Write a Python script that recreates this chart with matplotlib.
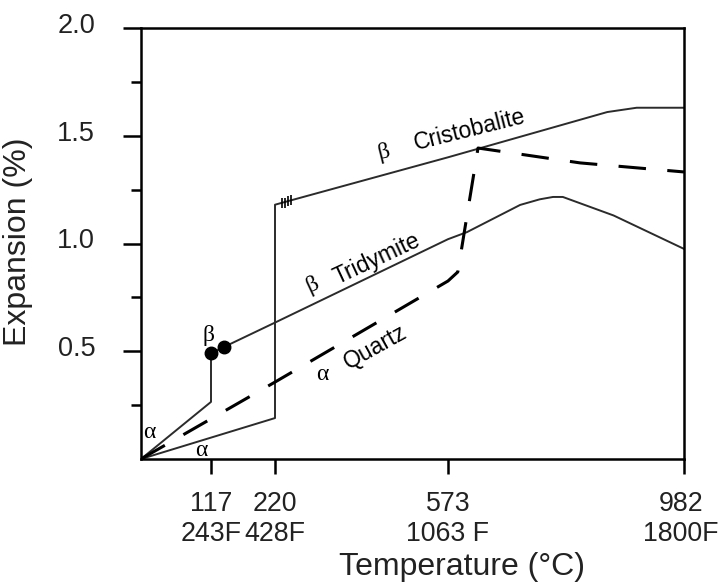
import numpy as np
import matplotlib.pyplot as plt
from matplotlib.transforms import ScaledTranslation

plt.rcParams['font.family'] = ['Liberation Sans', 'DejaVu Sans']

# temperature (C) and expansion (%)
cristo_t = [0, 220, 220, 573, 849, 900, 982]
cristo_e = [0, 0.19, 1.18, 1.40, 1.61, 1.63, 1.63]

trid_t = [0, 117, 117, 138, 220, 573, 606, 698, 732, 755, 772, 860, 982]
trid_e = [0, 0.265, 0.49, 0.52, 0.633, 1.02, 1.053, 1.179, 1.205, 1.216, 1.216, 1.13, 0.975]

quartz_t = [0, 220, 573, 590, 625, 802, 982]
quartz_e = [0, 0.357, 0.826, 0.868, 1.443, 1.374, 1.332]

dots_t = [117, 138]
dots_e = [0.49, 0.52]

hatch_t = [234, 240, 246, 252]
hatch_e = [1.19, 1.19, 1.195, 1.2]

tick_t = [117, 220, 573, 982]
tick_lbl = ['117\n243F', '220\n428F', '573\n1063 F', '982\n1800F']

# the schematic's temperature axis is not linear
anch_c = np.array([-1000, 0, 117, 220, 573, 982, 3000])
anch_p = np.array([-600, 0, 70, 134, 307, 543, 1708])


def fwd(x):
    return np.interp(x, anch_c, anch_p)


def inv(x):
    return np.interp(x, anch_p, anch_c)


fig = plt.figure(figsize=(7.21, 5.87), dpi=100)
ax = fig.add_axes([141/721, 1-459/587, (684-141)/721, (459-28)/587])
ax.set_xscale('function', functions=(fwd, inv))

ink = '#2b2b2b'
ax.plot(cristo_t, cristo_e, color=ink, lw=1.4)
ax.plot(trid_t, trid_e, color=ink, lw=1.4)
ax.plot(quartz_t, quartz_e, color='black', lw=2.2, dashes=(9, 7))
ax.plot(dots_t, dots_e, 'o', color='black', ms=9)
ax.plot(hatch_t, hatch_e, '|', color='black', ms=7, mew=1.2)

ax.set_xlim(0, 982)
ax.set_ylim(0, 2.0)

txt = '#222222'
ax.set_xticks(tick_t)
ax.set_xticklabels(tick_lbl, fontsize=19.3, color=txt)
ax.set_yticks([0.5, 1.0, 1.5, 2.0])
ax.set_yticklabels(['0.5', '1.0', '1.5', '2.0'], fontsize=19.5, color=txt)
ax.set_yticks([0.25, 0.75, 1.25, 1.75], minor=True)
ax.tick_params(axis='x', length=11, width=1.8, pad=12)
ax.tick_params(axis='y', which='major', length=13, width=1.8, pad=20)
ax.tick_params(axis='y', which='minor', length=7, width=1.8)
ax.xaxis.set_minor_locator(plt.NullLocator())
up = ScaledTranslation(0, 5/100, fig.dpi_scale_trans)
for t in ax.get_yticklabels():
    t.set_transform(t.get_transform() + up)
left = ScaledTranslation(-3/100, 0, fig.dpi_scale_trans)
ax.get_xticklabels()[-1].set_transform(ax.get_xticklabels()[-1].get_transform() + left)
for s in ax.spines.values():
    s.set_linewidth(1.8)

ax.set_xlabel('Temperature (°C)', fontsize=23, color=txt, va='center')
ax.xaxis.set_label_coords((462-141)/543, (459-567)/431)
ax.set_ylabel('Expansion (%)', fontsize=23, color=txt, va='center')
ax.yaxis.set_label_coords((18-141)/543, (459-242)/431)

lbl = dict(fontsize=16.5, color='black', ha='center', va='center',
           rotation_mode='anchor')
greek = dict(family='Liberation Serif', fontsize=17, color='black',
             ha='center', va='center', rotation_mode='anchor')

ax.text(inv(470 - 141), (459-130)/215.5, 'Cristobalite', rotation=14, **lbl)
ax.text(inv(384 - 141), (459-152)/215.5, 'β', rotation=14, **greek)
ax.text(inv(377 - 141), (459-259)/215.5, 'Tridymite', rotation=25, **lbl)
ax.text(inv(313 - 141), (459-285)/215.5, 'β', rotation=25, **greek)
ax.text(inv(375 - 141), (459-347)/215.5, 'Quartz', rotation=29, **lbl)
ax.text(inv(322 - 141), (459-374)/215.5, 'α', rotation=0, **greek)
ax.text(inv(208 - 141), (459-335)/215.5, 'β', rotation=0, **greek)
ax.text(inv(149 - 141), (459-433)/215.5, 'α', rotation=0, **greek)
ax.text(inv(201 - 141), (459-451)/215.5, 'α', rotation=0, **greek)

fig.savefig('out.png', dpi=100)
